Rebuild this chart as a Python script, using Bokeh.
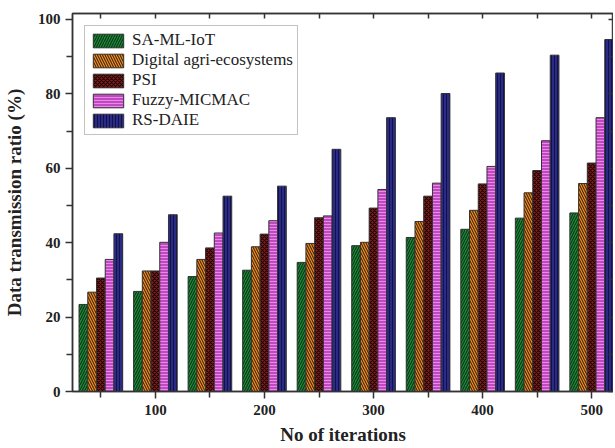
from bokeh.plotting import figure
from bokeh.models import (ColumnDataSource, LinearAxis, FixedTicker, Range1d,
                          CustomJSTickFormatter)
from bokeh.transform import dodge
from bokeh.embed import file_html
from bokeh.resources import INLINE

iterations = [50, 100, 150, 200, 250, 300, 350, 400, 450, 500]
sa_ml_iot = [23.4, 26.9, 30.9, 32.6, 34.7, 39.2, 41.4, 43.6, 46.6, 48.0]
digital_agri = [26.7, 32.4, 35.5, 38.9, 39.8, 40.1, 45.7, 48.7, 53.4, 55.9]
psi = [30.5, 32.4, 38.6, 42.3, 46.7, 49.3, 52.5, 55.8, 59.4, 61.4]
fuzzy_micmac = [35.5, 40.1, 42.6, 45.9, 47.2, 54.3, 56.0, 60.5, 67.4, 73.6]
rs_daie = [42.4, 47.5, 52.5, 55.2, 65.1, 73.6, 80.1, 85.6, 90.4, 94.6]

series_names = ["SA-ML-IoT", "Digital agri-ecosystems", "PSI", "Fuzzy-MICMAC", "RS-DAIE"]
x_ticks = [100, 200, 300, 400, 500]
y_ticks = [0, 20, 40, 60, 80, 100]

source = ColumnDataSource(dict(x=iterations, s0=sa_ml_iot, s1=digital_agri,
                               s2=psi, s3=fuzzy_micmac, s4=rs_daie))

p = figure(frame_width=541, frame_height=378, output_backend="svg", toolbar_location=None,
           x_range=Range1d(24, 520), y_range=Range1d(0, 101.6),
           min_border_left=62, min_border_right=0, min_border_top=13, min_border_bottom=45)
p.xgrid.visible = False
p.ygrid.visible = False
p.outline_line_color = "#444444"
p.outline_line_width = 1.5

styles = [
    dict(fill_color="#1f8a3a", hatch_pattern="/", hatch_color="#0c3a17", hatch_scale=5, hatch_weight=1.2),
    dict(fill_color="#f7922b", hatch_pattern="\\", hatch_color="#4a2a05", hatch_scale=5, hatch_weight=1.2),
    dict(fill_color="#8a1c1c", hatch_pattern="x", hatch_color="#1a0505", hatch_scale=4, hatch_weight=1.2),
    dict(fill_color="#c048c0", hatch_pattern="-", hatch_color="#e88ae8", hatch_scale=3, hatch_weight=1),
    dict(fill_color="#2b2b85", hatch_pattern="|", hatch_color="#12124a", hatch_scale=3, hatch_weight=1),
]
offsets = [-16, -8, 0, 8, 16]
for i, (name, st, off) in enumerate(zip(series_names, styles, offsets)):
    p.vbar(x=dodge("x", off, range=p.x_range), top="s%d" % i, width=8, bottom=0,
           source=source, line_color="#333333", line_width=1, legend_label=name, **st)

serif = "Liberation Serif"
ax_color = "#333333"

xa = p.xaxis[0]
xa.ticker = FixedTicker(ticks=x_ticks, minor_ticks=[50, 150, 250, 350, 450])
xa.axis_label = "No of iterations"
ya = p.yaxis[0]
ya.ticker = FixedTicker(ticks=y_ticks, minor_ticks=[10, 30, 50, 70, 90])
ya.axis_label = "Data transmission ratio (%)"
for a in (xa, ya):
    a.axis_line_color = ax_color
    a.axis_line_width = 1.5
    a.major_tick_line_color = ax_color
    a.major_tick_line_width = 1.5
    a.minor_tick_line_color = ax_color
    a.minor_tick_line_width = 1.5
    a.major_tick_out = 7
    a.major_tick_in = 0
    a.minor_tick_out = 6
    a.minor_tick_in = 0
    a.major_label_text_font = serif
    a.major_label_text_font_style = "bold"
    a.major_label_text_font_size = "15px"
    a.major_label_text_color = "#222222"
    a.axis_label_text_font = serif
    a.axis_label_text_font_style = "bold"
    a.axis_label_text_font_size = "19px"
    a.axis_label_text_color = "#222222"
xa.major_label_standoff = 6
xa.axis_label_standoff = 6
ya.major_label_standoff = 5
ya.axis_label_standoff = 10

blank = CustomJSTickFormatter(code="return ''")
top = LinearAxis(ticker=FixedTicker(ticks=[50, 100, 150, 200, 250, 300, 350, 400, 450, 500], minor_ticks=[]),
                 formatter=blank)
right = LinearAxis(ticker=FixedTicker(ticks=list(range(0, 101, 10)), minor_ticks=[]),
                   formatter=blank)
for a in (top, right):
    a.axis_line_color = ax_color
    a.axis_line_width = 1.5
    a.major_tick_line_color = ax_color
    a.major_tick_line_width = 1.5
    a.major_tick_in = 5
    a.major_tick_out = 0
    a.minor_tick_in = 0
    a.minor_tick_out = 0
    a.major_label_standoff = 0
    a.axis_label_standoff = 0
    a.major_label_text_font_size = "0px"
p.add_layout(top, "above")
p.add_layout(right, "right")

lg = p.legend[0]
lg.location = "top_left"
lg.margin = 12
lg.padding = 4
lg.spacing = 0
lg.glyph_width = 38
lg.glyph_height = 17
lg.label_height = 17
lg.label_standoff = 5
lg.label_text_font = serif
lg.label_text_font_size = "17px"
lg.label_text_color = "#222222"
lg.border_line_color = "#888888"
lg.border_line_width = 1
lg.background_fill_color = "white"
lg.background_fill_alpha = 1

open("out.html", "w").write(file_html(p, INLINE))
